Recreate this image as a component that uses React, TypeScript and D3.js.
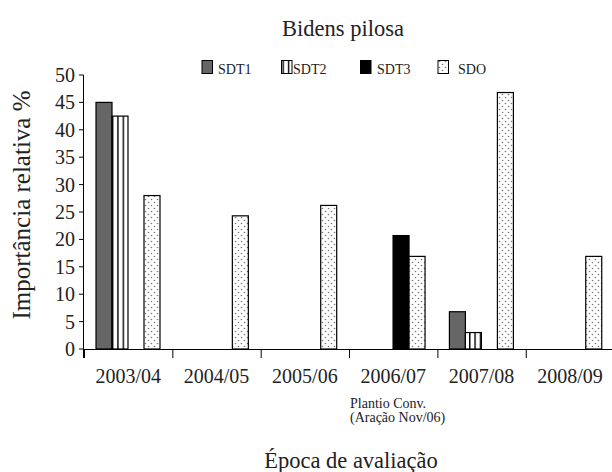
import React from "react";
import * as d3 from "d3";

const categories = ["2003/04", "2004/05", "2005/06", "2006/07", "2007/08", "2008/09"];
const seriesNames = ["SDT1", "SDT2", "SDT3", "SDO"];
const sdt1 = [45, 0, 0, 0, 6.8, 0];
const sdt2 = [42.5, 0, 0, 0, 3, 0];
const sdt3 = [0, 0, 0, 20.7, 0, 0];
const sdo = [28, 24.3, 26.2, 16.9, 46.8, 16.9];
const yTicks = [0, 5, 10, 15, 20, 25, 30, 35, 40, 45, 50];

const W = 612;
const H = 472;
const FONT = "Liberation Serif, Times New Roman, serif";
const ts = { fontFamily: FONT };

export default function App() {
  const series = [sdt1, sdt2, sdt3, sdo];
  const x = d3.scaleBand<string>().domain(categories).range([84, 84 + 6 * 88.35]).padding(0);
  const inner = d3.scaleBand<string>().domain(seriesNames).range([12, 76]).padding(0);
  const y = d3.scaleLinear().domain([0, 50]).range([349, 75]);
  const fills = ["#666666", "url(#vstripe)", "#000000", "url(#dots)"];
  const legendX = [202, 281.5, 360.5, 438];
  const legendTX = [218, 293, 377, 458];

  return (
    <svg width={W} height={H} style={{ position: "absolute", left: 0, top: 0, fontFamily: FONT }}>
      <defs>
        <pattern id="vstripe" patternUnits="userSpaceOnUse" width="5.33" height="10" x="0" y="0">
          <rect width="5.33" height="10" fill="#fff" />
          <rect x="0" width="1.4" height="10" fill="#000" />
        </pattern>
        <pattern id="dots" patternUnits="userSpaceOnUse" width="6" height="6">
          <rect width="6" height="6" fill="#fff" />
          <circle cx="1.5" cy="1.5" r="0.8" fill="#777" />
          <circle cx="4.5" cy="4.5" r="0.8" fill="#777" />
        </pattern>
      </defs>
      <rect width={W} height={H} fill="#fff" />
      <text x={343} y={36} fontSize={22.5} textAnchor="middle" fill="#222" style={ts}>Bidens pilosa</text>

      {seriesNames.map((s, i) => (
        <g key={s}>
          <rect x={legendX[i]} y={60.5} width={10.5} height={13} fill={fills[i]} stroke="#000" strokeWidth={1} />
          <text x={legendTX[i]} y={74} fontSize={14} fill="#222" style={ts}>{s}</text>
        </g>
      ))}

      {series.map((vals, si) =>
        vals.map((v, ci) =>
          v > 0 ? (
            <rect
              key={`${si}-${ci}`}
              x={(x(categories[ci]) as number) + (inner(seriesNames[si]) as number)}
              y={y(v)}
              width={inner.bandwidth()}
              height={y(0) - y(v)}
              fill={fills[si]}
              stroke="#000"
              strokeWidth={1.2}
            />
          ) : null
        )
      )}

      {/* y axis */}
      <line x1={83.5} x2={83.5} y1={75} y2={358} stroke="#000" strokeWidth={1} />
      {yTicks.map((t) => (
        <g key={t}>
          <line x1={79} x2={83.5} y1={y(t)} y2={y(t)} stroke="#000" />
          <text x={75} y={y(t) + 7} fontSize={20} textAnchor="end" fill="#222" style={ts}>{t}</text>
        </g>
      ))}
      <text transform={`translate(30,205) rotate(-90)`} fontSize={25} textAnchor="middle" fill="#222" style={ts}>
        Importância relativa %
      </text>

      {/* x axis */}
      <line x1={83.5} x2={W} y1={349.5} y2={349.5} stroke="#000" strokeWidth={1.2} />
      {categories.map((c) => (
        <g key={c}>
          <line x1={(x(c) as number) + 0.5} x2={(x(c) as number) + 0.5} y1={349.5} y2={358} stroke="#000" />
          <text x={(x(c) as number) + x.bandwidth() / 2} y={383} fontSize={20} textAnchor="middle" fill="#222" style={ts}>{c}</text>
        </g>
      ))}
      <text x={350} y={408} fontSize={14} fill="#222" style={ts}>Plantio Conv.</text>
      <text x={350} y={422} fontSize={14} fill="#222" style={ts}>(Aração Nov/06)</text>
      <text x={351} y={468} fontSize={22.5} textAnchor="middle" fill="#222" style={ts}>Época de avaliação</text>
    </svg>
  );
}
